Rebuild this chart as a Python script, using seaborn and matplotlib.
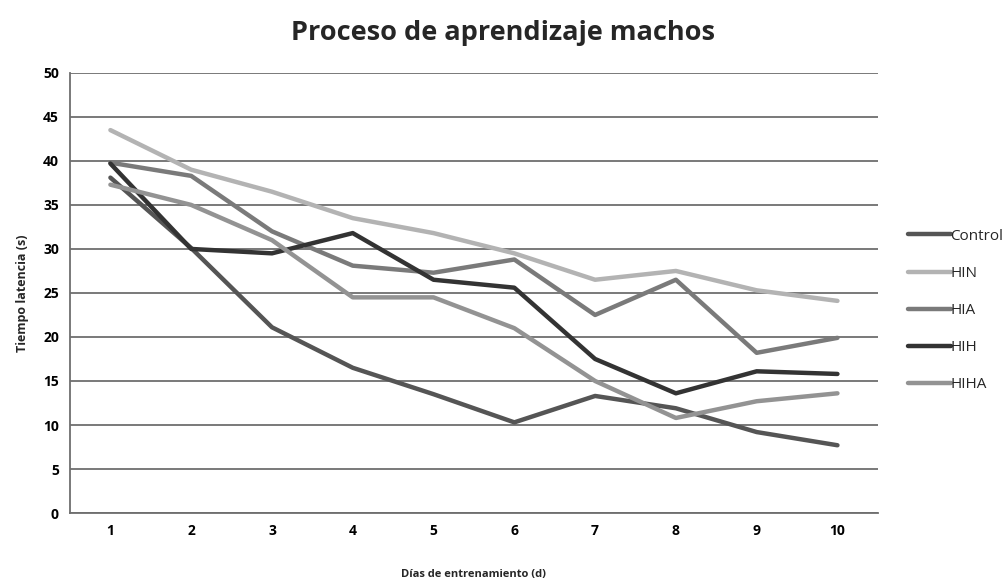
import numpy as np
import pandas as pd
import matplotlib
matplotlib.use("Agg")
import matplotlib.pyplot as plt
import seaborn as sns

dias = [1, 2, 3, 4, 5, 6, 7, 8, 9, 10]
control = [38.1, 30.1, 21.1, 16.5, 13.5, 10.3, 13.3, 11.9, 9.2, 7.7]
hin = [43.5, 39.0, 36.5, 33.5, 31.8, 29.5, 26.5, 27.5, 25.3, 24.1]
hia = [39.8, 38.3, 32.0, 28.1, 27.3, 28.8, 22.5, 26.5, 18.2, 19.9]
hih = [39.7, 30.0, 29.5, 31.8, 26.5, 25.6, 17.5, 13.6, 16.1, 15.8]
hiha = [37.3, 35.0, 31.0, 24.5, 24.5, 21.0, 15.0, 10.8, 12.7, 13.6]
grupos = ["Control", "HIN", "HIA", "HIH", "HIHA"]
colores = ["#555555", "#b3b3b3", "#7a7a7a", "#333333", "#939393"]

series = [control, hin, hia, hih, hiha]
df = pd.concat([pd.DataFrame({"dia": dias, "tiempo": s, "grupo": g})
                for g, s in zip(grupos, series)], ignore_index=True)

sns.set_style("white")
plt.rcParams['font.family'] = ['Open Sans', 'DejaVu Sans']

fig = plt.figure(figsize=(10.06, 5.83), dpi=100)
ax = fig.add_axes([0.0696, 0.12, 0.803, 0.755])

sns.lineplot(data=df, x="dia", y="tiempo", hue="grupo", palette=colores,
             hue_order=grupos, linewidth=3.2, ax=ax, legend=False)

ax.set_xlim(0.5, 10.5)
ax.set_ylim(0, 50)
ax.set_xticks(dias)
ax.set_yticks(np.arange(0, 51, 5))
ax.yaxis.grid(True, color="#6e6e6e", linewidth=1.3)
ax.set_axisbelow(True)
for side in ["top", "right"]:
    ax.spines[side].set_visible(False)
for side in ["left", "bottom"]:
    ax.spines[side].set_color("#6e6e6e")
    ax.spines[side].set_linewidth(1.3)
ax.tick_params(axis="both", length=0, labelsize=10, colors="black", pad=8)
for lbl in ax.get_xticklabels() + ax.get_yticklabels():
    lbl.set_fontweight("bold")

ax.set_xlabel("Días de entrenamiento (d)", fontsize=8, fontweight="bold", labelpad=22)
ax.set_ylabel("Tiempo latencia (s)", fontsize=9, fontweight="bold", labelpad=10)

fig.suptitle("Proceso de aprendizaje machos", fontsize=19.5, fontweight="bold",
             x=0.5, y=0.943, va="center")

handles = [plt.Line2D([0], [0], color=c, linewidth=3.2) for c in colores]
leg = ax.legend(handles, grupos, loc="center left", bbox_to_anchor=(1.02, 0.46),
                frameon=False, fontsize=11, handlelength=2.8, handletextpad=0.0,
                labelspacing=1.45)

fig.savefig("out.png", dpi=100)
